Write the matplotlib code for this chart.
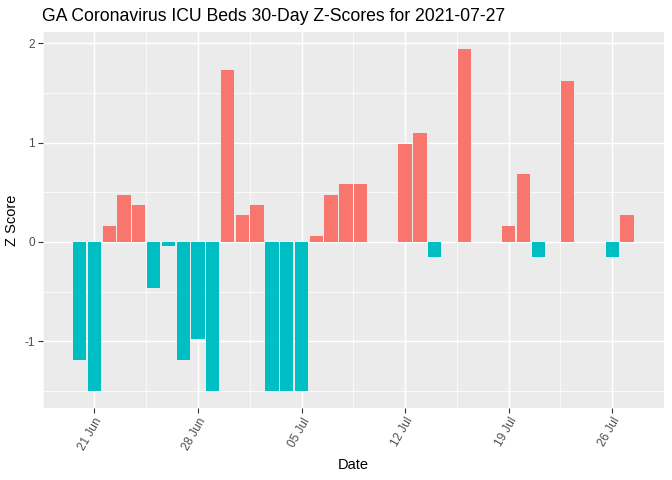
import datetime as dt

import matplotlib
matplotlib.use("Agg")
import matplotlib.dates as mdates
import matplotlib.pyplot as plt
from matplotlib.ticker import MultipleLocator

dates = ["2021-06-20", "2021-06-21", "2021-06-22", "2021-06-23", "2021-06-24",
         "2021-06-25", "2021-06-26", "2021-06-27", "2021-06-28", "2021-06-29",
         "2021-06-30", "2021-07-01", "2021-07-02", "2021-07-03", "2021-07-04",
         "2021-07-05", "2021-07-06", "2021-07-07", "2021-07-08", "2021-07-09",
         "2021-07-12", "2021-07-13", "2021-07-14", "2021-07-16", "2021-07-19",
         "2021-07-20", "2021-07-21", "2021-07-23", "2021-07-26", "2021-07-27"]
z_scores = [-1.19, -1.50, 0.16, 0.47, 0.37,
            -0.46, -0.04, -1.19, -0.98, -1.50,
            1.73, 0.27, 0.37, -1.50, -1.50,
            -1.50, 0.06, 0.47, 0.58, 0.58,
            0.99, 1.10, -0.15, 1.94, 0.16,
            0.68, -0.15, 1.62, -0.15, 0.27]
tick_dates = ["2021-06-21", "2021-06-28", "2021-07-05", "2021-07-12", "2021-07-19", "2021-07-26"]

plt.rcParams["font.family"] = ["Liberation Sans", "DejaVu Sans"]
plt.rcParams["axes.unicode_minus"] = False

x = [mdates.date2num(dt.date.fromisoformat(d)) for d in dates]
colors = ["#F8766D" if z > 0 else "#00BFC4" for z in z_scores]

fig = plt.figure(figsize=(6.72, 4.8), dpi=100)
ax = fig.add_axes([0.0635, 0.15, 0.9245, 0.783])
ax.set_facecolor("#EBEBEB")

ax.bar(x, z_scores, width=0.9, color=colors, zorder=3)

# ggplot style limits with 5% expansion
x_lo, x_hi = min(x) - 0.45, max(x) + 0.45
pad = (x_hi - x_lo) * 0.05
ax.set_xlim(x_lo - pad, x_hi + pad)
y_lo, y_hi = min(z_scores), max(z_scores)
ypad = (y_hi - y_lo) * 0.05
ax.set_ylim(y_lo - ypad, y_hi + ypad)

ticks = [mdates.date2num(dt.date.fromisoformat(d)) for d in tick_dates]
ax.set_xticks(ticks)
ax.set_xticklabels([dt.date.fromisoformat(d).strftime("%d %b") for d in tick_dates],
                   rotation=60, ha="right", va="top", rotation_mode="anchor")
minor_x = [t - 3.5 for t in ticks] + [ticks[-1] + 3.5]
ax.set_xticks(minor_x, minor=True)
ax.yaxis.set_major_locator(MultipleLocator(1))
ax.yaxis.set_minor_locator(MultipleLocator(0.5))

ax.grid(which="major", color="white", linewidth=1.07, zorder=1)
ax.grid(which="minor", color="white", linewidth=0.53, zorder=1)
ax.set_axisbelow(True)
for s in ax.spines.values():
    s.set_visible(False)
ax.tick_params(which="major", length=3.5, width=0.8, color="#333333",
               labelcolor="#4D4D4D", labelsize=8.5, pad=2)
ax.tick_params(which="minor", length=0)

ax.set_xlabel("Date", fontsize=10.5, labelpad=4)
ax.set_ylabel("Z Score", fontsize=10.5, labelpad=4)
fig.text(0.0625, 0.965, "GA Coronavirus ICU Beds 30-Day Z-Scores for 2021-07-27",
         fontsize=12.7, ha="left", va="center")

fig.savefig("out.png", dpi=100)
